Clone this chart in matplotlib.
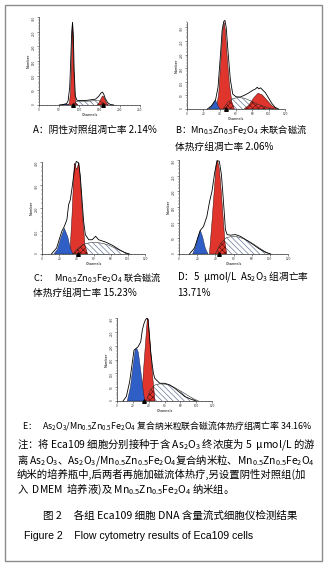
import matplotlib
matplotlib.use('Agg')
import matplotlib.pyplot as plt
from matplotlib.patches import Rectangle
from matplotlib.ticker import MultipleLocator

W, H = 332, 572

RED = '#e0352c'
BLUE = '#2f5fc6'
HATCH_COL = '#5a6a8e'
DARK_HATCH = '#5c0f0f'

# ---- panel A: negative control ----
A_BLUE_CH = [56, 62, 66, 70, 74]
A_BLUE_N = [0, 2, 4, 2, 0]
A_G1_CH = [70, 75, 78, 80, 82, 83, 84, 86, 88, 91, 96]
A_G1_N = [0, 5, 40, 120, 230, 270, 235, 130, 50, 8, 0]
A_G2_CH = [144, 148, 152, 156, 158, 160, 164, 168, 172]
A_G2_N = [0, 6, 17, 28, 31, 28, 16, 5, 0]
A_S_CH = [86, 92, 100, 120, 140, 150, 158, 166]
A_S_N = [0, 12, 13, 13, 15, 14, 8, 0]
A_ENV_CH = [50, 60, 68, 72, 76, 79, 81, 83, 85, 87, 90, 94, 100, 120, 140,
            148, 153, 157, 160, 164, 170, 176, 185]
A_ENV_N = [0, 2, 4, 14, 60, 170, 250, 282, 240, 120, 30, 16, 15, 16, 20,
           30, 40, 44, 38, 22, 8, 2, 0]
A_MARKS = [83, 158]

# ---- panel B ----
B_BLUE_CH = [27, 31, 35, 38, 40]
B_BLUE_N = [0, 14, 33, 12, 0]
B_G1_CH = [36, 39, 42, 44, 45.5, 47, 49, 52, 55, 58]
B_G1_N = [0, 60, 200, 290, 318, 290, 200, 90, 25, 0]
B_G2_CH = [70, 76, 82, 87, 92, 98, 104, 110]
B_G2_N = [0, 15, 42, 58, 52, 32, 12, 0]
B_S_CH = [44, 50, 56, 62, 70, 78, 86, 94, 100, 106]
B_S_N = [0, 25, 38, 42, 40, 30, 18, 10, 4, 0]
B_ENV_CH = [25, 30, 35, 38, 41, 43, 45, 46.5, 48, 50, 53, 56, 60, 65, 70,
            75, 80, 84, 86, 88, 90, 92, 96, 100, 104, 108, 112]
B_ENV_N = [0, 12, 34, 80, 200, 290, 322, 326, 300, 220, 110, 55, 45, 44, 50,
           58, 68, 74, 80, 74, 78, 72, 60, 40, 20, 6, 0]
B_MARKS = [48]

# ---- panel C ----
C_BLUE_CH = [14, 18, 22, 26, 30, 33, 36]
C_BLUE_N = [0, 20, 70, 112, 75, 25, 0]
C_G1_CH = [32.5, 35, 37.7, 40.4, 43, 45, 47, 50, 53]
C_G1_N = [0, 170, 395, 367, 398, 300, 180, 40, 0]
C_S_CH = [36, 42, 48, 54, 60, 66, 72, 78, 84, 90, 96, 102]
C_S_N = [0, 25, 42, 48, 50, 49, 45, 38, 28, 17, 7, 0]
C_ENV_CH = [11, 17, 23, 26, 29, 31, 33, 35, 38, 40, 42.5, 44.5, 46.5, 48.5,
            50.5, 54.5, 58.5, 62.5, 66, 74, 82, 90, 97.5, 101.5]
C_ENV_N = [0, 26, 98, 120, 149, 214, 236, 287, 374, 403, 396, 345, 243, 142,
           84, 62, 62, 77, 62, 52, 38, 19, 4, 0]
C_MARKS = [42]

# ---- panel D ----
D_BLUE_CH = [15, 18, 21, 23.5, 26, 29, 32]
D_BLUE_N = [0, 20, 55, 75, 55, 18, 0]
D_G1_CH = [33.5, 36, 38.5, 41, 42.5, 44.5, 46.5, 48.5, 50.5, 52.5]
D_G1_N = [0, 90, 190, 285, 298, 270, 200, 120, 40, 0]
D_S_CH = [40, 46, 52, 58, 64, 70, 76, 82, 88, 94, 100]
D_S_N = [0, 35, 52, 56, 55, 50, 42, 32, 20, 9, 0]
D_ENV_CH = [11.5, 17, 23.3, 27, 30.7, 33.7, 36.3, 39.2, 41.8, 44.4, 46.7,
            48.1, 49.6, 51.1, 53, 56.7, 62.2, 67.8, 73.3, 80.7, 88.1, 95.5, 101]
D_ENV_N = [0, 19, 75, 88, 120, 168, 200, 258, 298, 296, 253, 200, 141, 78,
           62, 60, 62, 56, 46, 32, 17, 5, 0]
D_MARKS = [44]

# ---- panel E ----
E_BLUE_CH = [13, 17, 20, 23, 25, 27, 30, 33, 35]
E_BLUE_N = [0, 50, 120, 185, 190, 175, 110, 40, 0]
E_G1_CH = [31, 34, 38.4, 39.5, 42, 45, 48]
E_G1_N = [0, 130, 300, 295, 200, 90, 0]
E_S_CH = [37, 42, 48, 54, 60, 66, 72, 78, 84, 90, 96, 103]
E_S_N = [0, 40, 58, 62, 61, 57, 50, 40, 30, 19, 9, 0]
E_ENV_CH = [7.6, 11.8, 16, 21.5, 26.6, 30, 32, 34.2, 35.9, 37.6, 39.2, 40.9,
            42.6, 44.3, 46, 47.7, 49.8, 54, 60.3, 66.7, 73, 79.3, 85.7, 94, 100]
E_ENV_N = [0, 16, 70, 184, 196, 214, 257, 281, 293, 299, 293, 239, 178, 136,
           100, 82, 76, 64, 64, 58, 46, 31, 16, 6, 0]
E_MARKS = [34]

# captions
CAP_A = 'A：阴性对照组凋亡率 2.14%'
CAP_B1 = 'B：Mn$_{0.5}$Zn$_{0.5}$Fe$_2$O$_4$ 未联合磁流'
CAP_B2 = '体热疗组凋亡率 2.06%'
CAP_C1 = 'C：   Mn$_{0.5}$Zn$_{0.5}$Fe$_2$O$_4$ 联合磁流'
CAP_C2 = '体热疗组凋亡率 15.23%'
CAP_D1 = 'D：5  μmol/L  As$_2$O$_3$ 组凋亡率'
CAP_D2 = '13.71%'
CAP_E = ('E：   As$_2$O$_3$/Mn$_{0.5}$Zn$_{0.5}$Fe$_2$O$_4$ '
         '复合纳米粒联合磁流体热疗组凋亡率 34.16%')
NOTE_LINES = [
    '注：将 Eca109 细胞分别接种于含 As$_2$O$_3$ 终浓度为 5  μmol/L 的游',
    '离 As$_2$O$_3$、As$_2$O$_3$/Mn$_{0.5}$Zn$_{0.5}$Fe$_2$O$_4$复合纳米粒、'
    'Mn$_{0.5}$Zn$_{0.5}$Fe$_2$O$_4$',
    '纳米的培养瓶中,后两者再施加磁流体热疗,另设置阴性对照组(加',
    '入  DMEM  培养液)及 Mn$_{0.5}$Zn$_{0.5}$Fe$_2$O$_4$ 纳米组。',
]
TITLE_CN = '图 2     各组 Eca109 细胞 DNA 含量流式细胞仪检测结果'
TITLE_EN = 'Figure 2    Flow cytometry results of Eca109 cells'

plt.rcParams['font.family'] = ['Noto Sans CJK SC', 'DejaVu Sans']
plt.rcParams['mathtext.default'] = 'regular'
plt.rcParams['hatch.linewidth'] = 0.45


def add_px_axes(fig, left, top, right, bottom):
    return fig.add_axes([left / W, 1 - bottom / H, (right - left) / W,
                         (bottom - top) / H])


def px_text(fig, x, y, s, size=7.0, **kw):
    fig.text(x / W, 1 - y / H, s, fontsize=size, va='center', ha='left', **kw)


def draw_panel(fig, rect, xmax, ymax, xstep, ystep, blue, g1, g2, s, env, marks):
    ax = add_px_axes(fig, *rect)

    # S phase, hatched
    ax.fill(s[0], s[1], facecolor='white', edgecolor=HATCH_COL,
            hatch='\\\\\\\\\\\\', lw=0, zorder=1)

    reds = []
    for comp in (g1, g2):
        if comp is None:
            continue
        p, = ax.fill(comp[0], comp[1], facecolor=RED, edgecolor='#3a0a0a',
                     lw=0.35, zorder=2)
        reds.append(p)
    ax.fill(blue[0], blue[1], facecolor=BLUE, edgecolor='#1a1a3a', lw=0.3,
            zorder=2)

    # overlap of S with red peaks -> dark cross hatch
    for p in reds:
        ov, = ax.fill(s[0], s[1], facecolor='none', edgecolor=DARK_HATCH,
                      hatch='xxxxxx', lw=0, zorder=3)
        ov.set_clip_path(p)

    ax.plot(s[0], s[1], color='#333333', lw=0.4, zorder=3)
    ax.plot(env[0], env[1], color='black', lw=0.6, zorder=4, clip_on=False)
    ax.plot(marks, [0] * len(marks), ls='none', marker='^', ms=2.6,
            color='black', clip_on=False, zorder=5)

    ax.set_xlim(0, xmax)
    ax.set_ylim(0, ymax)
    ax.xaxis.set_major_locator(MultipleLocator(xstep))
    ax.xaxis.set_minor_locator(MultipleLocator(xstep / 5))
    ax.yaxis.set_major_locator(MultipleLocator(ystep))
    ax.yaxis.set_minor_locator(MultipleLocator(ystep / 5))
    for side in ('top', 'right'):
        ax.spines[side].set_visible(False)
    for side in ('left', 'bottom'):
        ax.spines[side].set_linewidth(0.5)
        ax.spines[side].set_color('#333333')
    ax.tick_params(which='major', length=1.6, width=0.4, labelsize=2.3,
                   pad=0.8, colors='#333333')
    ax.tick_params(which='minor', length=0.9, width=0.3, colors='#333333')
    ax.tick_params(axis='y', labelrotation=90)
    ax.set_xlabel('Channels', fontsize=2.5, labelpad=0.6, family='DejaVu Sans')
    ax.set_ylabel('Number', fontsize=2.5, labelpad=0.6, family='DejaVu Sans')
    ax.patch.set_alpha(0)
    return ax


fig = plt.figure(figsize=(W / 100, H / 100), dpi=100)

draw_panel(fig, (39, 17, 140, 105), 250, 300, 50, 50,
           (A_BLUE_CH, A_BLUE_N), (A_G1_CH, A_G1_N), (A_G2_CH, A_G2_N),
           (A_S_CH, A_S_N), (A_ENV_CH, A_ENV_N), A_MARKS)
draw_panel(fig, (187, 22, 285, 109), 120, 320, 20, 50,
           (B_BLUE_CH, B_BLUE_N), (B_G1_CH, B_G1_N), (B_G2_CH, B_G2_N),
           (B_S_CH, B_S_N), (B_ENV_CH, B_ENV_N), B_MARKS)
draw_panel(fig, (42, 162, 145, 254), 120, 400, 20, 100,
           (C_BLUE_CH, C_BLUE_N), (C_G1_CH, C_G1_N), None,
           (C_S_CH, C_S_N), (C_ENV_CH, C_ENV_N), C_MARKS)
draw_panel(fig, (179, 160, 288, 254), 120, 300, 20, 50,
           (D_BLUE_CH, D_BLUE_N), (D_G1_CH, D_G1_N), None,
           (D_S_CH, D_S_N), (D_ENV_CH, D_ENV_N), D_MARKS)
draw_panel(fig, (117, 318, 212, 401), 120, 300, 20, 50,
           (E_BLUE_CH, E_BLUE_N), (E_G1_CH, E_G1_N), None,
           (E_S_CH, E_S_N), (E_ENV_CH, E_ENV_N), E_MARKS)

# captions
px_text(fig, 33, 130, CAP_A)
px_text(fig, 175, 130, CAP_B1, size=6.6)
px_text(fig, 175, 147, CAP_B2)
px_text(fig, 33, 277, CAP_C1, size=6.6)
px_text(fig, 33, 293, CAP_C2)
px_text(fig, 177, 277, CAP_D1)
px_text(fig, 177, 293, CAP_D2)
px_text(fig, 22, 426, CAP_E, size=6.4)

for i, line in enumerate(NOTE_LINES):
    px_text(fig, 17, 445 + i * 14.7, line, size=7.45)

px_text(fig, 43, 516, TITLE_CN, size=7.6)
px_text(fig, 24, 536, TITLE_EN, size=7.6, family=['Liberation Sans'])

fig.patches.append(Rectangle((5 / W, 1 - 561 / H), 317 / W, 556 / H,
                             transform=fig.transFigure, fill=False,
                             edgecolor='#8c8c8c', lw=1.0))

fig.savefig('out.png', dpi=100)
